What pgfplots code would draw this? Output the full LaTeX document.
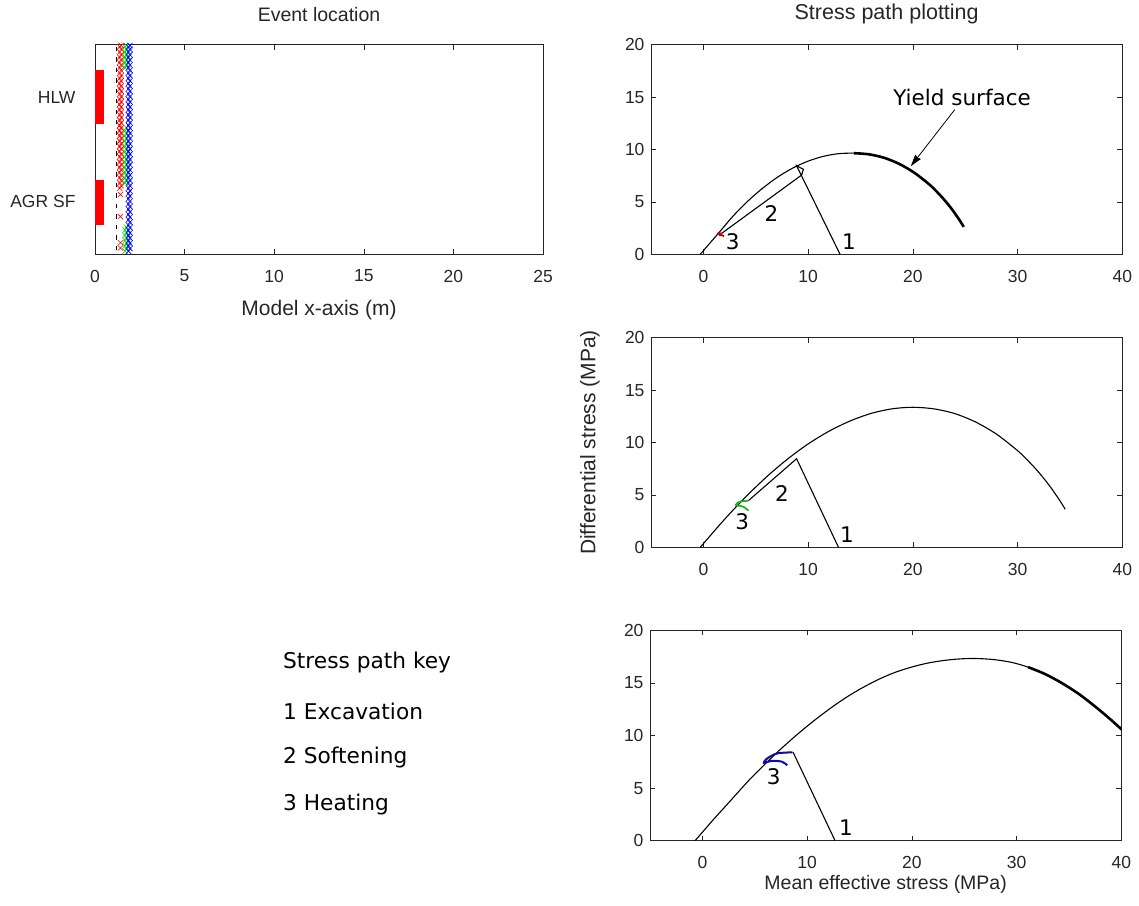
\documentclass[border=0pt]{standalone}
\usepackage{pgfplots}
\usepackage{pgfplotstable}
\pgfplotsset{compat=1.18}
\usetikzlibrary{arrows.meta}
\usepackage{fontspec}
\setmainfont{Liberation Sans}
\newfontfamily\keyfont{DejaVu Sans}

\definecolor{axgray}{gray}{0.15}
\definecolor{pathred}{rgb}{0.8,0,0}
\definecolor{pathgreen}{rgb}{0.1,0.72,0.1}
\definecolor{pathblue}{rgb}{0.05,0.05,0.65}

\tikzset{num/.style={font=\keyfont\fontsize{21.5}{24}\selectfont, inner sep=0pt}}

\pgfplotsset{
  mlab/.style={
    scale only axis,
    axis line style={axgray, line width=0.6pt},
    tick style={axgray, line width=0.6pt},
    major tick length=5pt,
    tick align=inside,
    ticklabel style={font=\fontsize{17.5}{20}\selectfont, text=axgray},
    xticklabel style={yshift=-12pt},
    /pgf/number format/assume math mode=true,
    label style={font=\fontsize{21}{24}\selectfont, text=axgray},
  },
  stress/.style={mlab, width=471.3pt, height=209.6pt,
    xmin=-5, xmax=40, ymin=0, ymax=20,
    xtick={0,10,20,30,40}, ytick={0,5,10,15,20},
    yticklabel style={xshift=-3pt}},
  yield/.style={black, line width=1.1pt, smooth},
  spath/.style={black, line width=1.1pt},
  evmark/.style={only marks, mark=x, mark size=3.8pt, mark options={line width=0.6pt}},
}

% event markers along the model x-axis: two staggered marker columns per event type
\pgfplotstableread{
xa xb ya yb
1.38 1.46 3.15 3.275
1.38 1.46 3.40 3.525
1.38 1.46 3.65 3.775
1.38 1.46 3.90 4.025
1.38 1.46 4.15 4.275
1.38 1.46 4.40 4.525
1.38 1.46 4.65 4.775
1.38 1.46 4.90 5.025
1.38 1.46 5.15 5.275
1.38 1.46 5.40 5.525
1.38 1.46 5.65 5.775
1.38 1.46 5.90 6.025
1.38 1.46 6.15 6.275
1.38 1.46 6.40 6.525
1.38 1.46 6.65 6.775
1.38 1.46 6.90 7.025
1.38 1.46 7.15 7.275
1.38 1.46 7.40 7.525
1.38 1.46 7.65 7.775
1.38 1.46 7.90 8.025
1.38 1.46 8.15 8.275
1.38 1.46 8.40 8.525
1.38 1.46 8.65 8.775
1.38 1.46 8.90 9.025
1.38 1.46 9.15 9.275
1.38 1.46 9.40 9.525
1.38 1.46 9.65 9.775
1.38 1.46 9.90 9.960
}\redev

\pgfplotstableread{
x y
1.42 2.85
1.42 1.80
1.42 0.55
1.42 0.30
}\redsparse

\pgfplotstableread{
xa xb ya yb
1.68 1.76 0.15 0.275
1.68 1.76 0.40 0.525
1.68 1.76 0.65 0.775
1.68 1.76 0.90 1.025
1.68 1.76 1.15 1.275
1.68 1.76 3.40 3.525
1.68 1.76 3.65 3.775
1.68 1.76 3.90 4.025
1.68 1.76 4.15 4.275
1.68 1.76 4.40 4.525
1.68 1.76 4.65 4.775
1.68 1.76 4.90 5.025
1.68 1.76 5.15 5.275
1.68 1.76 5.40 5.525
1.68 1.76 5.65 5.775
1.68 1.76 5.90 6.025
1.68 1.76 8.90 9.025
1.68 1.76 9.15 9.275
1.68 1.76 9.40 9.525
1.68 1.76 9.65 9.775
1.68 1.76 9.90 9.960
}\greenev

\pgfplotstableread{
xa xb ya yb
1.87 1.95 0.15 0.275
1.87 1.95 0.40 0.525
1.87 1.95 0.65 0.775
1.87 1.95 0.90 1.025
1.87 1.95 1.15 1.275
1.87 1.95 1.40 1.525
1.87 1.95 1.65 1.775
1.87 1.95 1.90 2.025
1.87 1.95 2.15 2.275
1.87 1.95 2.40 2.525
1.87 1.95 2.65 2.775
1.87 1.95 2.90 3.025
1.87 1.95 3.15 3.275
1.87 1.95 3.40 3.525
1.87 1.95 3.65 3.775
1.87 1.95 3.90 4.025
1.87 1.95 4.15 4.275
1.87 1.95 4.40 4.525
1.87 1.95 4.65 4.775
1.87 1.95 4.90 5.025
1.87 1.95 5.15 5.275
1.87 1.95 5.40 5.525
1.87 1.95 5.65 5.775
1.87 1.95 5.90 6.025
1.87 1.95 6.15 6.275
1.87 1.95 6.40 6.525
1.87 1.95 6.65 6.775
1.87 1.95 6.90 7.025
1.87 1.95 7.15 7.275
1.87 1.95 7.40 7.525
1.87 1.95 7.65 7.775
1.87 1.95 7.90 8.025
1.87 1.95 8.15 8.275
1.87 1.95 8.40 8.525
1.87 1.95 8.65 8.775
1.87 1.95 8.90 9.025
1.87 1.95 9.15 9.275
1.87 1.95 9.40 9.525
1.87 1.95 9.65 9.775
1.87 1.95 9.90 9.960
}\blueev

\pgfplotstableread{
x y
1.21 0.3
1.21 0.8
1.21 1.3
1.21 1.8
1.21 2.3
1.21 2.8
1.21 3.3
1.21 3.8
1.21 4.3
1.21 4.8
1.21 5.3
1.21 5.8
1.21 6.3
1.21 6.8
1.21 7.3
1.21 7.8
1.21 8.3
1.21 8.8
1.21 9.3
1.21 9.8
}\blackev

% yield surfaces (mean effective stress, differential stress)
\pgfplotstableread{
p q
-0.3 0
0.28 0.67
1.0 1.50
1.72 2.34
2.81 3.62
4.25 5.08
5.69 6.33
7.14 7.40
8.58 8.25
10.03 8.90
11.47 9.35
12.91 9.60
14.36 9.65
15.80 9.54
17.25 9.21
18.69 8.63
20.13 7.79
21.58 6.66
22.30 5.96
23.02 5.18
23.74 4.29
24.10 3.78
24.46 3.26
24.86 2.62
}\yieldA

\pgfplotstableread{
p q
-0.3 0
0.5 0.93
1.5 2.08
2.5 3.19
4 4.77
6 6.69
8 8.39
10 9.86
12 11.08
14 12.05
16 12.77
18 13.21
20 13.36
22 13.21
24 12.76
26 11.95
28 10.79
30 9.22
31 8.26
32 7.18
33 5.94
33.5 5.24
34 4.51
34.55 3.63
}\yieldB

\pgfplotstableread{
p q
-0.7 0
0.0 0.80
1.0 1.95
2.5 3.60
4.45 5.75
5.9 7.20
7.36 8.60
9.0 10.05
10.52 11.30
12.1 12.50
13.7 13.60
15.3 14.55
16.86 15.35
18.4 16.00
20.03 16.52
21.6 16.90
23.2 17.15
24.6 17.28
26.05 17.32
27.8 17.22
29.53 16.95
31.1 16.50
32.7 15.85
34.3 15.00
35.87 14.00
37.0 13.15
38.0 12.35
39.0 11.50
40.0 10.60
40.5 10.15
}\yieldC

\begin{document}
\begin{tikzpicture}
\useasboundingbox (0,0) rectangle (1139pt,905pt);

% ---------------- event location ----------------
\begin{axis}[mlab, at={(95pt,650.7pt)}, anchor=south west,
  width=448pt, height=209.6pt,
  xmin=0, xmax=25, ymin=0, ymax=10,
  xtick={0,5,10,15,20,25},
  ytick={2.5,7.5}, yticklabels={AGR SF, HLW},
  y tick style={draw=none},
  yticklabel style={xshift=-16pt},
  title={Event location},
  title style={at={(axis description cs:0.5,1)}, anchor=center, yshift=24.5pt,
    font=\fontsize{19.5}{24}\selectfont, text=axgray},
  xlabel={Model x-axis (m)},
  xlabel style={at={(axis description cs:0.5,0)}, anchor=center, yshift=-56pt},
]
\addplot[fill=red, draw=red, line width=0.8pt, line join=round] coordinates {(0,6.26) (0.47,6.26) (0.47,8.77) (0,8.77) (0,6.26)};
\addplot[fill=red, draw=red, line width=0.8pt, line join=round] coordinates {(0,1.45) (0.47,1.45) (0.47,3.52) (0,3.52) (0,1.45)};
\addplot[only marks, mark=|, mark size=2.2pt, black, mark options={line width=0.6pt}] table[x=x,y=y] {\blackev};
\addplot[evmark, red] table[x=xa,y=ya] {\redev};
\addplot[evmark, red] table[x=xb,y=yb] {\redev};
\addplot[evmark, red] table[x=x,y=y] {\redsparse};
\addplot[evmark, green!85!black] table[x=xa,y=ya] {\greenev};
\addplot[evmark, green!85!black] table[x=xb,y=yb] {\greenev};
\addplot[evmark, blue] table[x=xa,y=ya] {\blueev};
\addplot[evmark, blue] table[x=xb,y=yb] {\blueev};
\end{axis}

% ---------------- stress path, top ----------------
\begin{axis}[stress, at={(651pt,650.7pt)}, anchor=south west,
  title={Stress path plotting},
  title style={at={(axis description cs:0.5,1)}, anchor=center, yshift=24.5pt,
    font=\fontsize{21.5}{24}\selectfont, text=axgray},
]
\addplot[yield] table[x=p,y=q] {\yieldA};
\addplot[yield, line width=2.6pt, restrict x to domain=14:26] table[x=p,y=q] {\yieldA};
\addplot[spath] coordinates {(13.05,0) (8.9,8.45) (9.55,8.11) (9.39,7.57) (1.75,2.0)};
\addplot[pathred, line width=1.8pt] coordinates {(1.75,2.0) (1.45,1.98) (1.55,1.85) (1.85,1.8) (1.95,1.7)};
\node[num] at (axis cs:13.9,1.2) {1};
\node[num] at (axis cs:6.5,3.9) {2};
\node[num] at (axis cs:2.8,1.2) {3};
\node[num, anchor=center] at (axis cs:24.7,15.0) {Yield surface};
\draw[black, line width=0.8pt, -{Stealth[length=12pt,width=7pt,inset=1pt]}] (axis cs:24.0,13.8) -- (axis cs:19.8,8.4);
\end{axis}

% ---------------- stress path, middle ----------------
\begin{axis}[stress, at={(651pt,357.7pt)}, anchor=south west,
  ylabel={Differential stress (MPa)},
  ylabel style={at={(axis description cs:0,0.5)}, anchor=center, yshift=61pt},
]
\addplot[yield] table[x=p,y=q] {\yieldB};
\addplot[spath] coordinates {(12.9,0) (8.9,8.45) (4.3,4.45)};
\addplot[pathgreen, line width=1.8pt, smooth] coordinates {(4.3,4.45) (3.5,4.35) (3.1,4.05) (3.8,3.87) (4.3,3.5)};
\node[num] at (axis cs:13.7,1.2) {1};
\node[num] at (axis cs:7.5,5.15) {2};
\node[num] at (axis cs:3.7,2.45) {3};
\end{axis}

% ---------------- stress path, bottom ----------------
\begin{axis}[stress, at={(650pt,64.3pt)}, anchor=south west, height=210.4pt,
  xlabel={Mean effective stress (MPa)},
  xlabel style={at={(axis description cs:0.5,0)}, anchor=center, yshift=-44pt,
    font=\fontsize{19.5}{22}\selectfont},
]
\addplot[yield] table[x=p,y=q] {\yieldC};
\addplot[yield, line width=2.6pt, restrict x to domain=30:41] table[x=p,y=q] {\yieldC};
\addplot[spath] coordinates {(12.67,0) (8.65,8.43)};
\addplot[pathblue, line width=2pt, smooth] coordinates {(8.59,8.4) (7.15,8.3) (6.2,7.83) (5.88,7.4) (6.68,7.6) (7.63,7.5) (8.1,7.17)};
\node[num] at (axis cs:13.7,1.2) {1};
\node[num] at (axis cs:6.8,6.1) {3};
\end{axis}

% stress path key
\begin{scope}[every node/.style={anchor=west, inner sep=0pt, font=\keyfont\fontsize{21.7}{24}\selectfont}]
\node at (283pt,242pt) {Stress path key};
\node at (283pt,194pt) {1 Excavation};
\node at (283pt,147pt) {2 Softening};
\node at (283pt,100pt) {3 Heating};
\end{scope}
\end{tikzpicture}
\end{document}
